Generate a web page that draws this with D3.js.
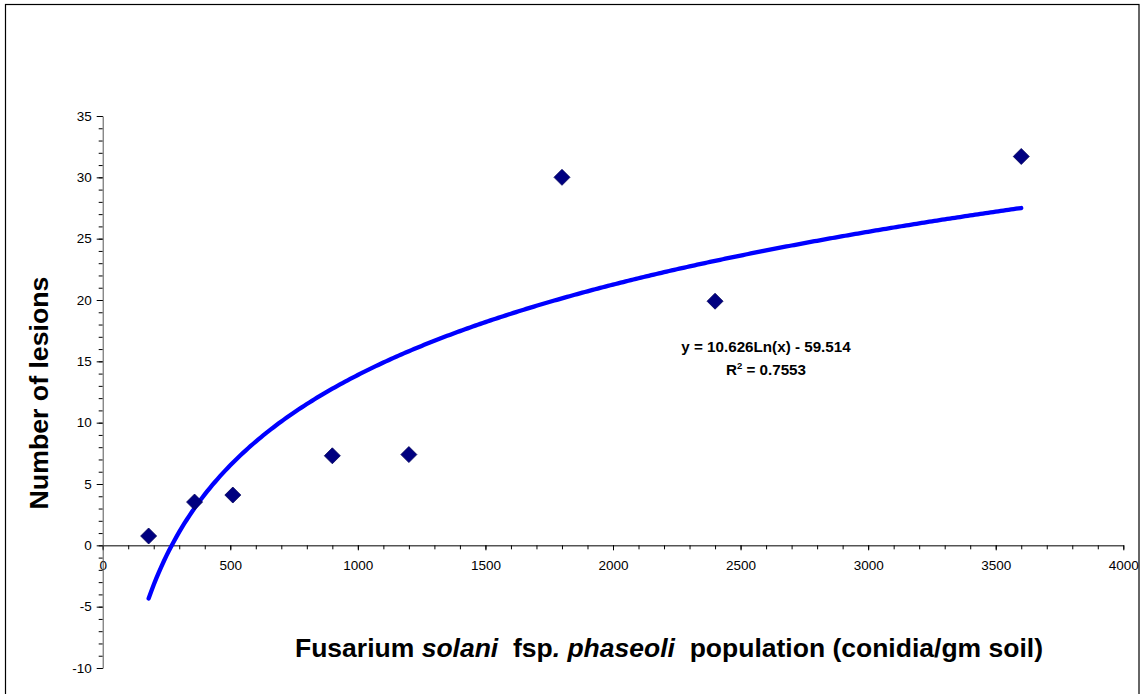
<!DOCTYPE html>
<html><head><meta charset="utf-8">
<script src="https://cdn.jsdelivr.net/npm/d3@7"></script>
<style>body{margin:0;background:#fff}svg{display:block}text{font-family:Arial,"Liberation Sans",sans-serif}</style>
</head><body>
<script>
const xValues = [180, 360, 510, 900, 1200, 1800, 2400, 3600];
const yValues = [0.76, 3.53, 4.1, 7.3, 7.4, 30.0, 19.9, 31.7];
const xTicks = [0, 500, 1000, 1500, 2000, 2500, 3000, 3500, 4000];
const yTicks = [-10, -5, 0, 5, 10, 15, 20, 25, 30, 35];
const trendSlope = 10.626, trendIntercept = -59.514, rSquared = 0.7553;

const W = 1142, H = 694;
const svg = d3.select("body").append("svg").attr("width", W).attr("height", H);
svg.append("rect").attr("x", 5.5).attr("y", 4.5).attr("width", 1133.5).attr("height", 720)
  .attr("fill", "none").attr("stroke", "#000").attr("stroke-width", 1.2);

const x = d3.scaleLinear().domain([0, 4000]).range([102.7, 1123.3]);
const y = d3.scaleLinear().domain([-10, 35]).range([668, 116]);

const xMinor = d3.range(0, 4001, 100);
const yMinor = d3.range(-10, 35.01, 1);
const fmt = d => String(d);

const xg = svg.append("g").attr("transform", `translate(0,${y(0)})`);
xg.call(d3.axisBottom(x).tickValues(xMinor).tickSize(4).tickFormat(""));
xg.call(g => g.select(".domain").remove());
const xAxisMajor = svg.append("g").attr("transform", `translate(0,${y(0)})`)
  .call(d3.axisBottom(x).tickValues(xTicks).tickSize(5).tickSizeOuter(0).tickPadding(10).tickFormat(fmt));
xAxisMajor.selectAll("text").style("font-size", "13.5px").attr("fill", "#000");

const yg = svg.append("g").attr("transform", `translate(${x(0)},0)`);
yg.call(d3.axisLeft(y).tickValues(yMinor).tickSize(4).tickFormat(""));
yg.call(g => g.select(".domain").remove());
const yAxisMajor = svg.append("g").attr("transform", `translate(${x(0)},0)`)
  .call(d3.axisLeft(y).tickValues(yTicks).tickSize(6).tickSizeOuter(0).tickPadding(5).tickFormat(fmt));
yAxisMajor.selectAll("text").style("font-size", "13.5px").attr("fill", "#000");
yAxisMajor.select(".domain").attr("stroke", "#555");
svg.selectAll(".tick line").attr("stroke", "#000");

// trendline
const xs = d3.range(xValues[0], xValues[xValues.length-1] + 0.01, 10);
const line = d3.line().x(d => x(d)).y(d => y(trendSlope * Math.log(d) + trendIntercept));
svg.append("path").datum(xs).attr("d", line).attr("fill", "none")
  .attr("stroke", "#0000FF").attr("stroke-width", 4.3).attr("stroke-linecap", "round");

// points
svg.append("g").selectAll("path").data(xValues).join("path")
  .attr("transform", (d, i) => `translate(${x(d)},${y(yValues[i])})`)
  .attr("d", "M0,-8L8,0L0,8L-8,0Z")
  .attr("fill", "#000080").attr("stroke", "#00005a").attr("stroke-width", 0.8);

// equation
svg.append("text").attr("x", 766).attr("y", 352).attr("text-anchor", "middle")
  .style("font-size", "15.2px").attr("font-weight", "bold")
  .text(`y = ${trendSlope}Ln(x) - ${Math.abs(trendIntercept)}`);
const r2 = svg.append("text").attr("x", 766).attr("y", 375).attr("text-anchor", "middle")
  .style("font-size", "15.2px").attr("font-weight", "bold");
r2.append("tspan").text("R");
r2.append("tspan").style("font-size", "9.5px").attr("dy", -6).text("2");
r2.append("tspan").attr("dy", 6).text(` = ${rSquared}`);

// axis titles
svg.append("text").attr("transform", "translate(48,393) rotate(-90)").attr("text-anchor", "middle")
  .style("font-size", "26.7px").attr("font-weight", "bold").text("Number of lesions");
const xt = svg.append("text").attr("x", 669).attr("y", 657).attr("text-anchor", "middle")
  .style("font-size", "26.5px").attr("font-weight", "bold").attr("xml:space", "preserve");
xt.append("tspan").text("Fusarium ");
xt.append("tspan").attr("font-style", "italic").text("solani");
xt.append("tspan").text("  fsp");
xt.append("tspan").attr("font-style", "italic").text(". phaseoli");
xt.append("tspan").text("  population (conidia/gm soil)");
</script>
</body></html>
